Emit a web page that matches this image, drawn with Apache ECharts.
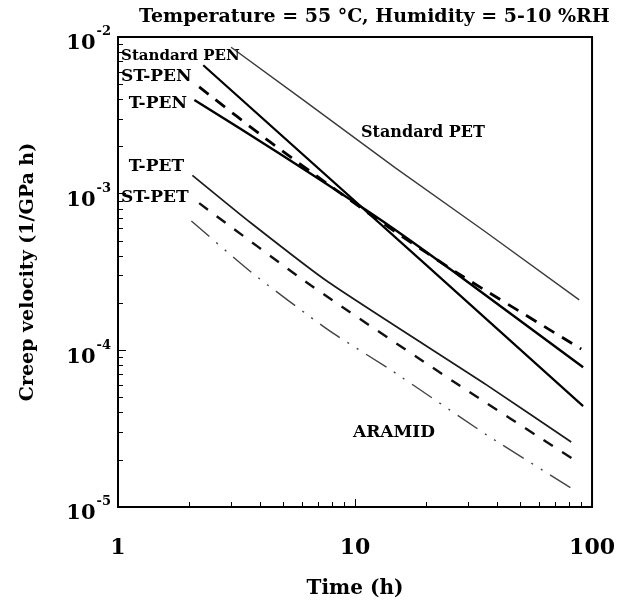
<!DOCTYPE html>
<html>
<head>
<meta charset="utf-8">
<script src="https://cdn.jsdelivr.net/npm/echarts@6/dist/echarts.min.js"></script>
<style>
  html, body { margin: 0; padding: 0; background: #fff; }
  #chart { width: 618px; height: 611px; }
</style>
</head>
<body>
<div id="chart"></div>
<script>
// Creep velocity vs time, log-log, at 55 °C and 5-10 %RH
const seriesNames = ['Standard PET', 'Standard PEN', 'T-PEN', 'ST-PEN', 'T-PET', 'ST-PET', 'ARAMID'];

const timeStandardPET = [3.0, 6.0, 14.8, 35, 88.3];
const velStandardPET  = [8.6e-3, 4.0e-3, 1.46e-3, 5.8e-4, 2.1e-4];

const timeStandardPEN = [2.29, 20, 91.7];
const velStandardPEN  = [6.6e-3, 3.5e-4, 4.4e-5];

const timeTPEN = [2.1, 4.76, 12.5, 26.2, 91.7];
const velTPEN  = [3.96e-3, 1.82e-3, 7.0e-4, 3.16e-4, 7.8e-5];

const timeSTPEN = [2.2, 4.45, 12.5, 27.0, 90.0];
const velSTPEN  = [4.8e-3, 2.1e-3, 6.8e-4, 3.12e-4, 1.02e-4];

const timeTPET = [2.06, 3.64, 7.71, 36.0, 81.7];
const velTPET  = [1.31e-3, 6.5e-4, 2.73e-4, 6.0e-5, 2.6e-5];

const timeSTPET = [2.2, 6.48, 26.2, 83.3];
const velSTPET  = [8.7e-4, 2.61e-4, 6.28e-5, 2.02e-5];

const timeARAMID = [2.04, 3.64, 7.71, 14.15, 36.0, 81.7];
const velARAMID  = [6.7e-4, 3.16e-4, 1.35e-4, 7.5e-5, 2.88e-5, 1.32e-5];

// axis ranges and tick values
const timeRange = [1, 100];
const velRange = [1e-5, 1e-2];
const timeMinorTicks = [2, 3, 4, 5, 6, 7, 8, 9, 20, 30, 40, 50, 60, 70, 80, 90];
const velMinorTicks = [2e-5, 3e-5, 4e-5, 5e-5, 6e-5, 7e-5, 8e-5, 9e-5,
                       2e-4, 3e-4, 4e-4, 5e-4, 6e-4, 7e-4, 8e-4, 9e-4,
                       2e-3, 3e-3, 4e-3, 5e-3, 6e-3, 7e-3, 8e-3, 9e-3];

const FONT = 'DejaVu Serif';

function pairs(ts, vs) { return ts.map((t, i) => [t, vs[i]]); }

const lineStyles = {
  'Standard PET': { color: '#3a3a3a', width: 1.4, type: 'solid' },
  'Standard PEN': { color: '#000', width: 2.2, type: 'solid' },
  'T-PEN':        { color: '#000', width: 2.4, type: 'solid' },
  'ST-PEN':       { color: '#000', width: 2.8, type: [12, 9] },
  'T-PET':        { color: '#1a1a1a', width: 1.7, type: 'solid' },
  'ST-PET':       { color: '#111', width: 2.4, type: [11, 11] },
  'ARAMID':       { color: '#444', width: 1.4, type: [24, 9, 2, 9, 2, 9] }
};

const curved = { 'T-PEN': true, 'ST-PEN': true, 'T-PET': true, 'ST-PET': true, 'ARAMID': true };

const seriesData = {
  'Standard PET': pairs(timeStandardPET, velStandardPET),
  'Standard PEN': pairs(timeStandardPEN, velStandardPEN),
  'T-PEN': pairs(timeTPEN, velTPEN),
  'ST-PEN': pairs(timeSTPEN, velSTPEN),
  'T-PET': pairs(timeTPET, velTPET),
  'ST-PET': pairs(timeSTPET, velSTPET),
  'ARAMID': pairs(timeARAMID, velARAMID)
};

const series = seriesNames.map(name => ({
  name: name,
  type: 'line',
  xAxisIndex: 0,
  yAxisIndex: 0,
  data: seriesData[name],
  showSymbol: false,
  symbol: 'none',
  smooth: curved[name] ? 0.2 : false,
  lineStyle: lineStyles[name],
  z: 3
}));

// in-plot curve labels: [text, time, velocity, fontSize]
const curveLabels = [
  ['Standard PEN', 1.03, 7.5e-3, 15],
  ['ST-PEN',       1.03, 5.55e-3, 17],
  ['T-PEN',        1.11, 3.75e-3, 17],
  ['Standard PET', 10.6, 2.44e-3, 16],
  ['T-PET',        1.11, 1.5e-3, 17],
  ['ST-PET',       1.03, 9.5e-4, 17],
  ['ARAMID',       9.8, 3.0e-5, 17]
];

const chart = echarts.init(document.getElementById('chart'), null, { renderer: 'canvas' });

const option = {
  backgroundColor: '#fff',
  animation: false,
  title: {
    text: 'Temperature = 55 °C, Humidity = 5-10 %RH',
    left: 134,
    top: 3,
    textStyle: { fontFamily: FONT, fontWeight: 'bold', fontSize: 19, color: '#000' }
  },
  grid: {
    left: 118, top: 37, width: 477, height: 470,
    show: true, borderColor: '#000', borderWidth: 2, backgroundColor: 'transparent'
  },
  xAxis: [
    {
      type: 'log', logBase: 10, min: timeRange[0], max: timeRange[1],
      name: 'Time (h)', nameLocation: 'middle', nameGap: 72,
      nameTextStyle: { fontFamily: FONT, fontWeight: 'bold', fontSize: 20, color: '#000' },
      axisLine: { show: true, lineStyle: { color: '#000', width: 2 } },
      axisTick: { show: true, inside: true, length: 8, lineStyle: { color: '#000', width: 1 } },
      axisLabel: { margin: 30, fontFamily: FONT, fontWeight: 'bold', fontSize: 22, color: '#000' },
      splitLine: { show: false }
    },
    {
      type: 'value', min: Math.log10(timeRange[0]), max: Math.log10(timeRange[1]),
      position: 'bottom',
      axisLine: { show: false },
      axisLabel: { show: false },
      splitLine: { show: false },
      axisTick: { show: true, inside: true, length: 5, customValues: timeMinorTicks.map(v => Math.log10(v)), lineStyle: { color: '#000', width: 1 } }
    }
  ],
  yAxis: [
    {
      type: 'log', logBase: 10, min: velRange[0], max: velRange[1],
      name: 'Creep velocity (1/GPa h)', nameLocation: 'middle', nameGap: 80,
      nameTextStyle: { fontFamily: FONT, fontWeight: 'bold', fontSize: 19, color: '#000' },
      axisLine: { show: true, lineStyle: { color: '#000', width: 2 } },
      axisTick: { show: true, inside: true, length: 8, lineStyle: { color: '#000', width: 1 } },
      axisLabel: {
        margin: 7,
        formatter: function (v) {
          const e = Math.round(Math.log10(v));
          return '{b|10}{s|' + e + '}';
        },
        rich: {
          b: { fontFamily: FONT, fontWeight: 'bold', fontSize: 21, color: '#000', verticalAlign: 'bottom', padding: [14, 0, 0, 0] },
          s: { fontFamily: FONT, fontWeight: 'bold', fontSize: 13, color: '#000', verticalAlign: 'top', padding: [6, 0, 0, 1] }
        }
      },
      splitLine: { show: false }
    },
    {
      type: 'value', min: Math.log10(velRange[0]), max: Math.log10(velRange[1]),
      position: 'left',
      axisLine: { show: false },
      axisLabel: { show: false },
      splitLine: { show: false },
      axisTick: { show: true, inside: true, length: 5, customValues: velMinorTicks.map(v => Math.log10(v)), lineStyle: { color: '#000', width: 1 } }
    }
  ],
  series: series
};

chart.setOption(option);

// place curve labels at their data positions
chart.setOption({
  graphic: curveLabels.map(([text, t, v, size]) => {
    const p = chart.convertToPixel({ xAxisIndex: 0, yAxisIndex: 0 }, [t, v]);
    return {
      type: 'text',
      x: p[0], y: p[1],
      style: {
        text: text, fill: '#000',
        font: 'bold ' + size + 'px "' + FONT + '"',
        textAlign: 'left', textVerticalAlign: 'middle'
      },
      z: 10
    };
  })
});
</script>
</body>
</html>
